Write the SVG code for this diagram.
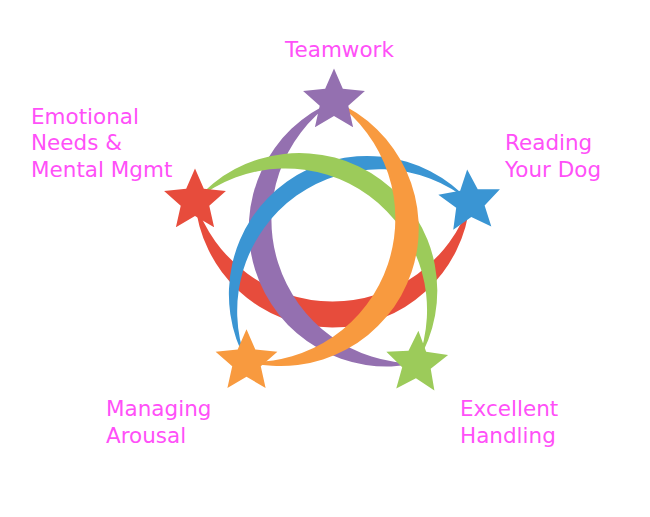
<svg xmlns="http://www.w3.org/2000/svg" xmlns:xlink="http://www.w3.org/1999/xlink" width="650" height="517" viewBox="0 0 650 517">
<style>
.lbl{font-family:"DejaVu Sans","Liberation Sans",sans-serif;font-size:21.5px;fill:#FF50F8}
.red{fill:#E74C3C}.purple{fill:#9470B0}.blue{fill:#3A95D3}.green{fill:#9CCB5A}.orange{fill:#F89A3F}
</style>
<defs>
<path id="star" d="M0,-32.5 L8.82,-12.14 L30.91,-10.04 L14.27,4.64 L19.10,26.29 L0,15 L-19.10,26.29 L-14.27,4.64 L-30.91,-10.04 L-8.82,-12.14 Z"/>
</defs>
<rect width="650" height="517" fill="#fff"/>
<g id="connectors">
<path class="red" d="M195,201 A138.02,138.02 0 0 0 470,202 A144.53,144.53 0 0 1 195,201 Z"/>
<path class="purple" d="M334,101 A138.04,138.04 0 0 0 416.7,363.3 A143.7,143.7 0 0 1 334,101 Z"/>
<path class="blue" d="M470,202 A138.18,138.18 0 0 0 246.5,361.7 A141.98,141.98 0 0 1 470,202 Z"/>
<path class="green" d="M195,201 A137.8,137.8 0 0 1 416.7,363.3 A141.69,141.69 0 0 0 195,201 Z"/>
<path class="orange" d="M334,101 A137.85,137.85 0 0 1 246.5,361.7 A143.27,143.27 0 0 0 334,101 Z"/>
</g>
<g id="teamwork">
<use xlink:href="#star" class="purple" transform="translate(334,101)"/>
<text class="lbl" x="285" y="57">Teamwork</text>
</g>
<g id="reading-your-dog">
<use xlink:href="#star" class="blue" transform="translate(470,202) rotate(-5)"/>
<text class="lbl" x="505" y="150">Reading</text>
<text class="lbl" x="505" y="176.5">Your Dog</text>
</g>
<g id="emotional-needs">
<use xlink:href="#star" class="red" transform="translate(195,201)"/>
<text class="lbl" x="31" y="124">Emotional</text>
<text class="lbl" x="31" y="150">Needs &amp;</text>
<text class="lbl" x="31" y="176.5">Mental Mgmt</text>
</g>
<g id="managing-arousal">
<use xlink:href="#star" class="orange" transform="translate(246.5,361.7)"/>
<text class="lbl" x="106" y="416">Managing</text>
<text class="lbl" x="106" y="442.5">Arousal</text>
</g>
<g id="excellent-handling">
<use xlink:href="#star" class="green" transform="translate(416.7,363.3) rotate(3)"/>
<text class="lbl" x="460" y="416">Excellent</text>
<text class="lbl" x="460" y="443">Handling</text>
</g>
</svg>
